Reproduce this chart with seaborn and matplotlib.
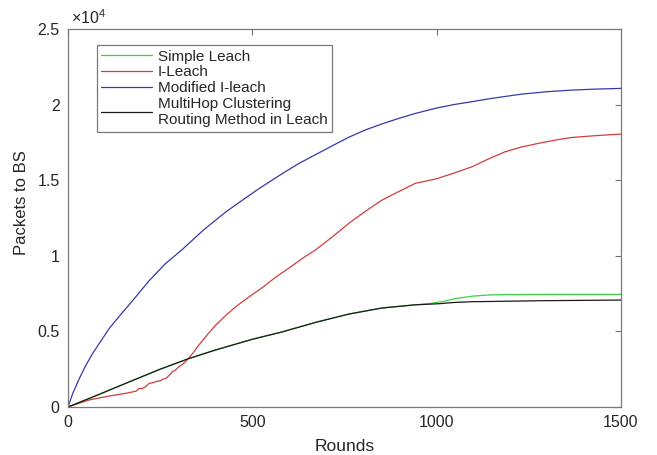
import numpy as np
import pandas as pd
import matplotlib
matplotlib.use("Agg")
import matplotlib.pyplot as plt
import seaborn as sns

# Values (rounds vs packets delivered to BS)
blue_rounds = [0, 13, 31, 49, 67, 85, 112, 139, 175, 220, 265, 310, 368, 429,
               474, 519, 582, 627, 672, 717, 762, 807, 852, 897, 942, 1000,
               1050, 1096, 1150, 1231, 1300, 1366, 1430, 1500]
blue_vals = [0, 905, 1900, 2780, 3550, 4210, 5200, 6000, 7030, 8350, 9500,
             10420, 11720, 12920, 13700, 14460, 15450, 16120, 16700, 17280,
             17850, 18330, 18730, 19090, 19420, 19780, 20020, 20200, 20420,
             20700, 20860, 20965, 21030, 21080]

red_rounds = [0, 30, 60, 85, 120, 157, 175, 185, 193, 200, 210, 220, 230, 240,
              250, 256, 265, 275, 283, 292, 301, 312, 323, 340, 355, 378, 400,
              430, 456, 492, 530, 564, 600, 640, 672, 717, 762, 807, 852, 897,
              942, 1000, 1050, 1096, 1140, 1186, 1230, 1276, 1320, 1366, 1430,
              1500]
red_vals = [0, 250, 480, 600, 760, 905, 1000, 1050, 1235, 1210, 1330, 1565,
            1600, 1700, 1720, 1830, 1880, 2100, 2335, 2450, 2665, 2850, 3110,
            3600, 4100, 4780, 5400, 6100, 6650, 7300, 7950, 8600, 9200, 9900,
            10400, 11250, 12150, 12950, 13690, 14250, 14795, 15100, 15500,
            15890, 16400, 16885, 17200, 17440, 17650, 17830, 17950, 18055]

green_rounds = [0, 85, 160, 249, 325, 400, 500, 580, 672, 762, 852, 942, 980,
                1020, 1050, 1096, 1141, 1200, 1300, 1400, 1500]
green_vals = [0, 840, 1600, 2490, 3180, 3770, 4480, 4960, 5600, 6150, 6550,
              6760, 6840, 6990, 7170, 7330, 7410, 7440, 7450, 7450, 7450]

black_rounds = [0, 85, 160, 249, 325, 400, 500, 580, 672, 762, 852, 942, 1005,
                1050, 1096, 1200, 1276, 1400, 1500]
black_vals = [0, 840, 1600, 2490, 3180, 3770, 4480, 4960, 5600, 6150, 6550,
              6760, 6830, 6920, 6965, 7000, 7030, 7055, 7075]

labels = ["Simple Leach", "I-Leach", "Modified I-leach",
          "MultiHop Clustering\nRouting Method in Leach"]
yticks = [0, 5000, 10000, 15000, 20000, 25000]
ytick_labels = ["0", "0.5", "1", "1.5", "2", "2.5"]
xticks = [0, 500, 1000, 1500]

sns.set_style("white")
plt.rcParams["font.family"] = ["Liberation Sans", "DejaVu Sans"]
plt.rcParams["mathtext.fontset"] = "custom"
plt.rcParams["mathtext.rm"] = "Liberation Sans"
plt.rcParams["mathtext.it"] = "Liberation Sans"

fig = plt.figure(figsize=(6.57, 4.55), dpi=100)
ax = fig.add_axes([0.1035, 0.1055, 0.8415, 0.8305])

series = [
    (green_rounds, green_vals, "#3fcf3f"),
    (red_rounds, red_vals, "#d23c3c"),
    (blue_rounds, blue_vals, "#3838a8"),
    (black_rounds, black_vals, "#1a1a1a"),
]
for (r, v, c), lab in zip(series, labels):
    df = pd.DataFrame({"Rounds": r, "Packets": v})
    sns.lineplot(data=df, x="Rounds", y="Packets", color=c, lw=0.9,
                 label=lab, ax=ax)

ax.set_xlim(0, 1500)
ax.set_ylim(0, 25000)
ax.set_xticks(xticks)
ax.set_yticks(yticks)
ax.set_yticklabels(ytick_labels)
ax.tick_params(direction="in", length=4, width=0.8, top=True, right=True,
               labelsize=11.5, colors="#707070", labelcolor="#262626", pad=6)
for s in ax.spines.values():
    s.set_color("#7a7a7a")
    s.set_linewidth(0.9)

ax.set_xlabel("Rounds", fontsize=12.5, color="#262626", labelpad=6)
ax.set_ylabel("Packets to BS", fontsize=12, color="#262626")
ax.yaxis.set_label_coords(-0.07, 0.54)
ax.text(0.005, 1.005, r"$\times 10^{4}$", transform=ax.transAxes,
        fontsize=11.5, color="#262626", ha="left", va="bottom")

leg = ax.legend(loc="upper left", bbox_to_anchor=(0.052, 0.958),
                borderaxespad=0, fontsize=11, frameon=True, fancybox=False,
                framealpha=1, edgecolor="#7a7a7a", handlelength=3.3,
                labelspacing=0.12, borderpad=0.3, handletextpad=0.4)
leg.get_frame().set_linewidth(0.9)

fig.savefig("out.png", dpi=100)
